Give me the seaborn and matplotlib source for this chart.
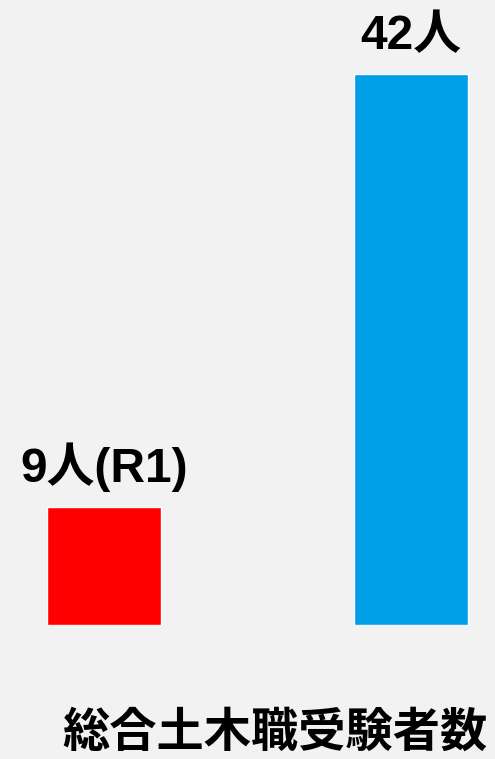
import matplotlib
matplotlib.use("Agg")
import matplotlib.pyplot as plt
import seaborn as sns
import pandas as pd

# data
categories = ["R1", "R2"]
counts = [9, 42]
bar_labels = ["9人(R1)", "42人"]
bar_colors = ["#ff0000", "#00a0e9"]
title = "総合土木職受験者数"

sns.set_theme(style="white")
plt.rcParams["font.family"] = ["Liberation Sans", "Noto Sans CJK JP", "DejaVu Sans"]

df = pd.DataFrame({"category": categories, "count": counts})

fig = plt.figure(figsize=(4.95, 7.59), dpi=100)
fig.patch.set_facecolor("#f2f2f2")
ax = fig.add_axes([0, 134 / 759, 1, 625 / 759])
ax.set_facecolor("#f2f2f2")

sns.barplot(data=df, x="category", y="count", hue="category",
            palette=bar_colors, width=0.371, legend=False, ax=ax, saturation=1)

ax.set_xlim(-0.3388, 1.2736)
ax.set_ylim(0, 47.64)
for i, (v, lab) in enumerate(zip(counts, bar_labels)):
    ax.annotate(lab, (i, v), xytext=(0, 11), textcoords="offset points",
                ha="center", va="bottom", fontsize=34.5, fontweight="bold",
                color="black")

ax.axis("off")

fig.text(274.5 / 495, 1 - 733 / 759, title, ha="center", va="center",
         fontsize=34, fontweight="bold", color="black",
         family=["Noto Sans CJK JP"])

fig.savefig("out.png", dpi=100, facecolor=fig.get_facecolor())
